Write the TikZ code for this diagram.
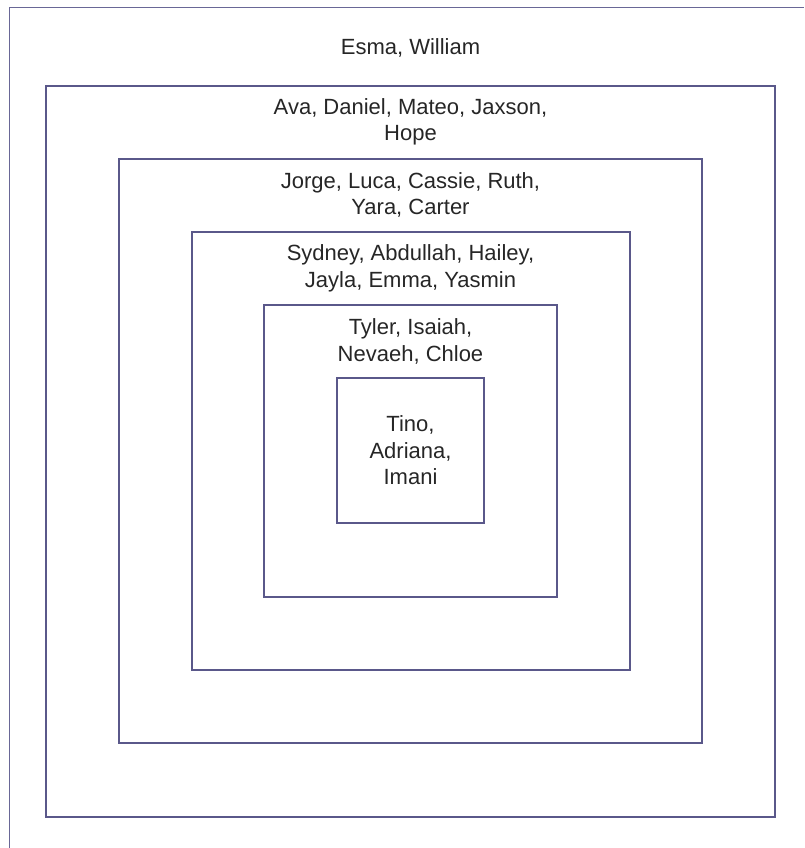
\documentclass[tikz,border=0pt]{standalone}
\usepackage{fontspec}
\setmainfont{Liberation Sans}
\definecolor{boxcol}{RGB}{90,88,138}
\definecolor{framecol}{RGB}{105,103,150}
\begin{document}
\begin{tikzpicture}[x=1pt,y=-1pt,
  ring/.style={draw=boxcol,line width=2pt,inner sep=0pt,outer sep=0pt},
  lbl/.style={align=center,font=\fontsize{22}{26.5}\selectfont,text=black!85,inner sep=0pt}]
\useasboundingbox (0,0) rectangle (804,848);
\draw[framecol,line width=1.2pt] (9.5,848) -- (9.5,7.5) -- (804,7.5);
\node[ring,minimum width=729pt,minimum height=731pt] (b1) at (410.5,451.5) {};
\node[ring,minimum width=583pt,minimum height=584pt] (b2) at (410.5,450.5) {};
\node[ring,minimum width=438pt,minimum height=438pt] (b3) at (410.5,451) {};
\node[ring,minimum width=293pt,minimum height=292pt] (b4) at (410.5,451) {};
\node[ring,minimum width=147pt,minimum height=145pt] (b5) at (410.5,450.5) {};
\node[lbl] (t0) at (410.5,48) {Esma, William};
\node[lbl] (t1) at (410.5,122) {Ava, Daniel, Mateo, Jaxson,\\Hope};
\node[lbl] (t2) at (410.5,195) {Jorge, Luca, Cassie, Ruth,\\Yara, Carter};
\node[lbl] (t3) at (410.5,268.5) {Sydney, Abdullah, Hailey,\\Jayla, Emma, Yasmin};
\node[lbl] (t4) at (410.5,341.5) {Tyler, Isaiah,\\Nevaeh, Chloe};
\node[lbl] (t5) at (410.5,450.5) {Tino,\\Adriana,\\Imani};
\end{tikzpicture}
\end{document}
